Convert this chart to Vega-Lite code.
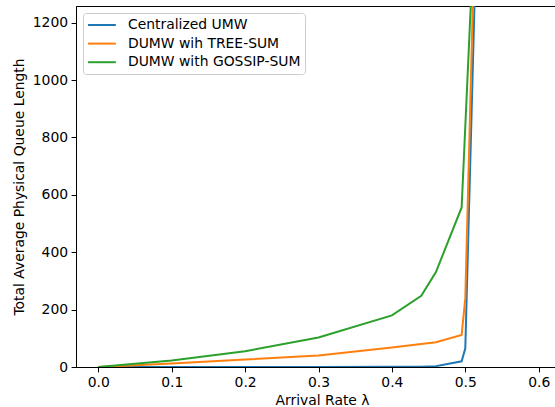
{
  "$schema": "https://vega.github.io/schema/vega-lite/v6.json",
  "autosize": "none",
  "width": 479,
  "height": 361,
  "padding": {"left": 76, "top": 6, "right": 0, "bottom": 40},
  "background": "white",
  "config": {
    "font": "DejaVu Sans",
    "view": {"stroke": "black", "strokeWidth": 1},
    "axis": {
      "grid": false,
      "domainColor": "black",
      "tickColor": "black",
      "labelColor": "black",
      "titleColor": "black",
      "labelFont": "DejaVu Sans",
      "titleFont": "DejaVu Sans",
      "labelFontSize": 13.9,
      "titleFontSize": 13.9,
      "titleFontWeight": "normal",
      "tickSize": 4.9,
      "labelPadding": 3.5
    }
  },
  "data": {
    "values": [
      {"series": "Centralized UMW", "x": 0.0, "y": 0},
      {"series": "Centralized UMW", "x": 0.1, "y": 0},
      {"series": "Centralized UMW", "x": 0.2, "y": 0},
      {"series": "Centralized UMW", "x": 0.3, "y": 0},
      {"series": "Centralized UMW", "x": 0.4, "y": 0.5},
      {"series": "Centralized UMW", "x": 0.44, "y": 1},
      {"series": "Centralized UMW", "x": 0.46, "y": 3},
      {"series": "Centralized UMW", "x": 0.495, "y": 20},
      {"series": "Centralized UMW", "x": 0.5, "y": 65},
      {"series": "Centralized UMW", "x": 0.52, "y": 1980},
      {"series": "DUMW wih TREE-SUM", "x": 0.0, "y": 0},
      {"series": "DUMW wih TREE-SUM", "x": 0.1, "y": 12},
      {"series": "DUMW wih TREE-SUM", "x": 0.2, "y": 26},
      {"series": "DUMW wih TREE-SUM", "x": 0.3, "y": 40},
      {"series": "DUMW wih TREE-SUM", "x": 0.4, "y": 68},
      {"series": "DUMW wih TREE-SUM", "x": 0.46, "y": 86},
      {"series": "DUMW wih TREE-SUM", "x": 0.495, "y": 112},
      {"series": "DUMW wih TREE-SUM", "x": 0.5, "y": 240},
      {"series": "DUMW wih TREE-SUM", "x": 0.52, "y": 2240},
      {"series": "DUMW with GOSSIP-SUM", "x": 0.0, "y": 0},
      {"series": "DUMW with GOSSIP-SUM", "x": 0.1, "y": 23},
      {"series": "DUMW with GOSSIP-SUM", "x": 0.2, "y": 55},
      {"series": "DUMW with GOSSIP-SUM", "x": 0.3, "y": 103},
      {"series": "DUMW with GOSSIP-SUM", "x": 0.4, "y": 180},
      {"series": "DUMW with GOSSIP-SUM", "x": 0.44, "y": 248},
      {"series": "DUMW with GOSSIP-SUM", "x": 0.46, "y": 331},
      {"series": "DUMW with GOSSIP-SUM", "x": 0.495, "y": 556},
      {"series": "DUMW with GOSSIP-SUM", "x": 0.52, "y": 1971}
    ]
  },
  "mark": {"type": "line", "clip": true, "strokeWidth": 2},
  "encoding": {
    "x": {
      "field": "x",
      "type": "quantitative",
      "scale": {"domain": [-0.0304, 0.6222], "nice": false, "zero": false},
      "axis": {
        "title": "Arrival Rate λ",
        "values": [0, 0.1, 0.2, 0.3, 0.4, 0.5, 0.6],
        "format": ".1f",
        "titleX": 246,
        "titlePadding": 4
      }
    },
    "y": {
      "field": "y",
      "type": "quantitative",
      "scale": {"domain": [0, 1258], "nice": false},
      "axis": {
        "title": "Total Average Physical Queue Length",
        "values": [0, 200, 400, 600, 800, 1000, 1200],
        "format": "d",
        "titlePadding": 6
      }
    },
    "color": {
      "field": "series",
      "type": "nominal",
      "scale": {
        "domain": ["Centralized UMW", "DUMW wih TREE-SUM", "DUMW with GOSSIP-SUM"],
        "range": ["#1f77b4", "#ff7f0e", "#2ca02c"]
      },
      "legend": {
        "title": null,
        "orient": "none",
        "legendX": 7,
        "legendY": 7,
        "symbolType": "M-1,0H3",
        "symbolSize": 193,
        "symbolStrokeWidth": 2,
        "labelFontSize": 13.9,
        "labelFont": "DejaVu Sans",
        "labelColor": "black",
        "labelOffset": 25,
        "labelLimit": 0,
        "padding": 4,
        "rowPadding": 3.6,
        "strokeColor": "#cccccc",
        "fillColor": "rgba(255,255,255,0.8)",
        "cornerRadius": 3
      }
    }
  }
}
